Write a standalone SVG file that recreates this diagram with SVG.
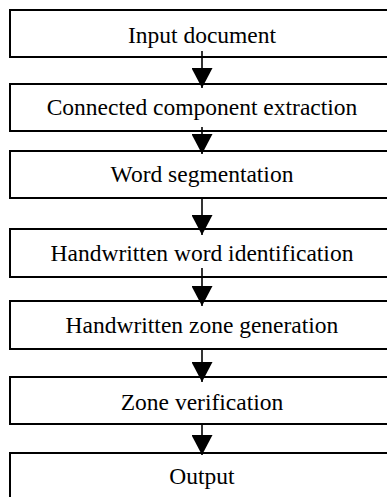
<svg xmlns="http://www.w3.org/2000/svg" width="387" height="497" viewBox="0 0 387 497">
<defs>
<style>
.box{fill:#fff;stroke:#000;stroke-width:2}
.conn{stroke:#000;stroke-width:1.6;fill:none;marker-end:url(#ah)}
</style>
<marker id="ah" markerUnits="userSpaceOnUse" markerWidth="20" markerHeight="21" viewBox="0 0 20 21" refX="20" refY="10.5" orient="auto">
<path d="M0,0 L20,10.5 L0,21 z" fill="#000"/>
</marker>
</defs>
<rect width="387" height="497" fill="#fff"/>
<g font-family="Liberation Serif" font-size="23.5" text-anchor="middle" fill="#000">
<g id="n1"><rect class="box" x="10" y="10" width="384" height="47"/><text x="202" y="43">Input document</text></g>
<g id="n2"><rect class="box" x="10" y="84" width="384" height="47"/><text x="202" y="115">Connected component extraction</text></g>
<g id="n3"><rect class="box" x="10" y="151" width="384" height="47"/><text x="202" y="182">Word segmentation</text></g>
<g id="n4"><rect class="box" x="10" y="229" width="384" height="48"/><text x="202" y="261">Handwritten word identification</text></g>
<g id="n5"><rect class="box" x="10" y="301" width="384" height="48"/><text x="202" y="333">Handwritten zone generation</text></g>
<g id="n6"><rect class="box" x="10" y="377" width="384" height="47"/><text x="202" y="410">Zone verification</text></g>
<g id="n7"><rect class="box" x="10" y="453" width="384" height="47"/><text x="202" y="484">Output</text></g>
</g>
<g id="connectors">
<line class="conn" x1="202" y1="51" x2="202" y2="88"/>
<line class="conn" x1="202" y1="127" x2="202" y2="154"/>
<line class="conn" x1="202" y1="197" x2="202" y2="235"/>
<line class="conn" x1="202" y1="268" x2="202" y2="306"/>
<line class="conn" x1="202" y1="349" x2="202" y2="382"/>
<line class="conn" x1="202" y1="424" x2="202" y2="455"/>
</g>
</svg>
